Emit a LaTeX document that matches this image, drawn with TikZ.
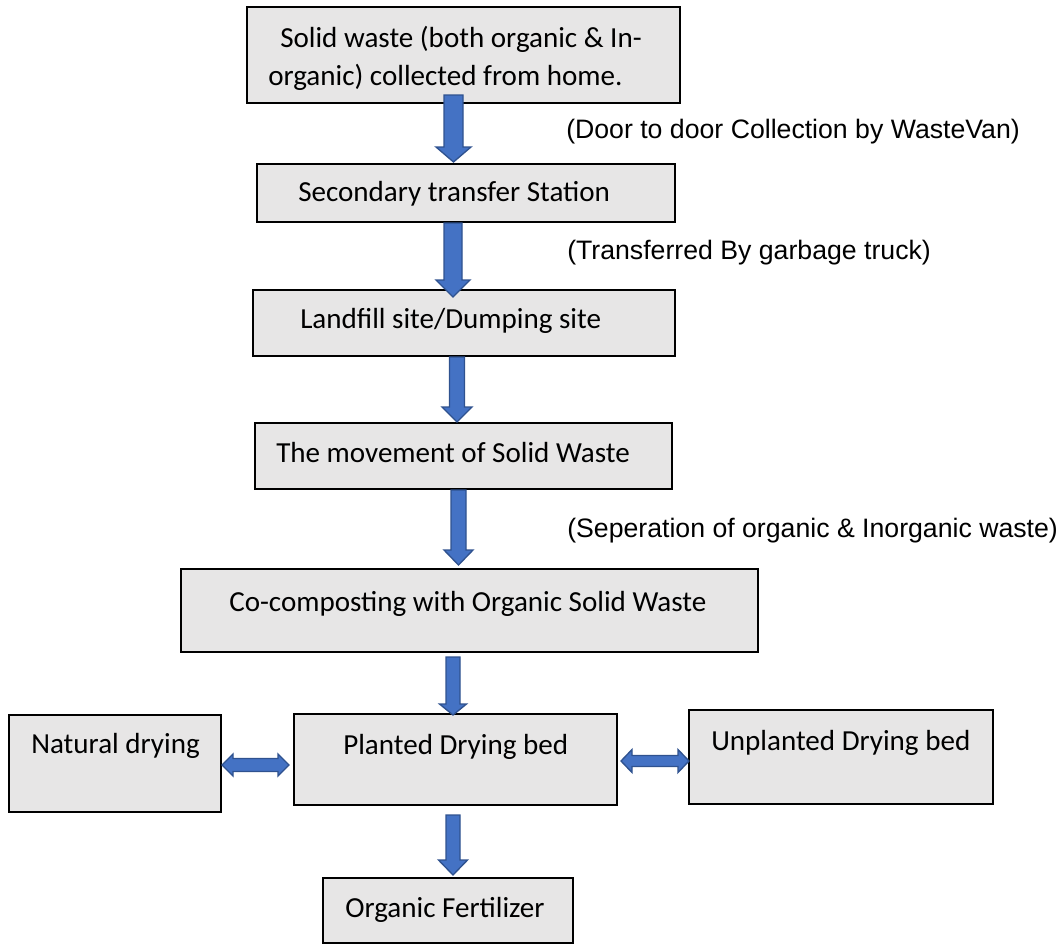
\documentclass[tikz,border=0pt]{standalone}
\usepackage{fontspec}
\setmainfont{Carlito}
\newfontfamily\labelfont{Liberation Sans}
\usetikzlibrary{calc}
\definecolor{boxfill}{HTML}{E7E6E6}
\definecolor{arrfill}{HTML}{4472C4}
\definecolor{arrline}{HTML}{2F528F}
\newcommand\mkbox[5]{\node[box, minimum width=#4*0.75pt, minimum height=#5*0.75pt] (#1) at (#2+#4/2,#3+#5/2) {};}
\tikzset{
  box/.style={draw=black, fill=boxfill, line width=1.5pt, inner sep=0pt, outer sep=0pt},
  boxtext/.style={anchor=base west, inner sep=0pt, font=\fontsize{21.8pt}{26pt}\selectfont},
  sidetext/.style={anchor=base west, inner sep=0pt, font=\labelfont\fontsize{20pt}{24pt}\selectfont},
  blockarrow/.style={draw=arrline, fill=arrfill, line width=1pt, line join=miter},
  % vertical block arrow: shaft half width, head half width, head length (px)
  downarrow/.style n args={3}{blockarrow, to path={
    let \p1=(\tikztostart), \p2=(\tikztotarget) in
    (\x1-#1*0.75pt,\y1) -- (\x1+#1*0.75pt,\y1) -- (\x1+#1*0.75pt,\y2+#3*0.75pt)
    -- (\x1+#2*0.75pt,\y2+#3*0.75pt) -- (\x1,\y2) -- (\x1-#2*0.75pt,\y2+#3*0.75pt)
    -- (\x1-#1*0.75pt,\y2+#3*0.75pt) -- cycle}},
  % horizontal double block arrow
  leftright/.style n args={3}{blockarrow, to path={
    let \p1=(\tikztostart), \p2=(\tikztotarget) in
    (\x1,\y1) -- (\x1+#3*0.75pt,\y1+#2*0.75pt) -- (\x1+#3*0.75pt,\y1+#1*0.75pt)
    -- (\x2-#3*0.75pt,\y1+#1*0.75pt) -- (\x2-#3*0.75pt,\y1+#2*0.75pt) -- (\x2,\y1)
    -- (\x2-#3*0.75pt,\y1-#2*0.75pt) -- (\x2-#3*0.75pt,\y1-#1*0.75pt)
    -- (\x1+#3*0.75pt,\y1-#1*0.75pt) -- (\x1+#3*0.75pt,\y1-#2*0.75pt) -- cycle}},
}
\begin{document}
\begin{tikzpicture}[x=0.75pt,y=-0.75pt]
\useasboundingbox (0,0) rectangle (1063,947);
% boxes
\mkbox{b1}{247}{7}{433}{96}
\mkbox{b2}{257}{164}{418}{58}
\mkbox{b3}{253}{290}{422}{66}
\mkbox{b4}{255}{423}{417}{66}
\mkbox{b5}{181}{569}{577}{83}
\mkbox{pl}{294}{714}{323}{91}
\mkbox{nat}{9}{715}{212}{97}
\mkbox{unp}{689}{710}{304}{94}
\mkbox{fert}{323}{878}{250}{65}
% box texts
\node[boxtext] (t1a) at (280,47) {Solid waste (both organic \& In-};
\node[boxtext] (t1b) at (268,85) {organic) collected from home.};
\node[boxtext] (t2) at (298,201.5) {Secondary transfer Station};
\node[boxtext] (t3) at (300,328) {Landfill site/Dumping site};
\node[boxtext] (t4) at (276,462) {The movement of Solid Waste};
\node[boxtext] (t5) at (229,611) {Co-composting with Organic Solid Waste};
\node[boxtext] (tpl) at (343,754) {Planted Drying bed};
\node[boxtext] (tnat) at (31,753) {Natural drying};
\node[boxtext] (tunp) at (711,750) {Unplanted Drying bed};
\node[boxtext] (tfert) at (345,917) {Organic Fertilizer};
% side labels
\node[sidetext] (l1) at (566,138) {(Door to door Collection by WasteVan)};
\node[sidetext] (l2) at (567,259) {(Transferred By garbage truck)};
\node[sidetext] (l3) at (567,537) {(Seperation of organic \& Inorganic waste)};
% arrows
\draw[downarrow={9.5}{17.5}{15}] ([shift={(-10,-8)}]b1.south) to ([shift={(-10,-2)}]b2.north);
\draw[downarrow={9}{17}{17}] ([shift={(-13,1)}]b2.south) to ([shift={(-13,7)}]b3.north);
\draw[downarrow={7.5}{15}{15}] ([shift={(-7,1)}]b3.south) to ([shift={(-7,-1)}]b4.north);
\draw[downarrow={7.5}{14.5}{15}] ([shift={(-5,1)}]b4.south) to ([shift={(-5,-4)}]b5.north);
\draw[downarrow={7}{13.5}{11}] ([shift={(-16.5,5)}]b5.south) to ([shift={(-16.5,1)}]pl.north);
\draw[downarrow={7}{14.5}{15}] ([shift={(-2.5,10)}]pl.south) to ([shift={(-2.5,-3)}]fert.north);
\draw[leftright={6.5}{11}{11}] ([shift={(1,1.5)}]nat.east) to ([shift={(-5,0)}]pl.west);
\draw[leftright={5.5}{11.5}{11}] ([shift={(4,1.5)}]pl.east) to (unp.west);
\end{tikzpicture}
\end{document}
